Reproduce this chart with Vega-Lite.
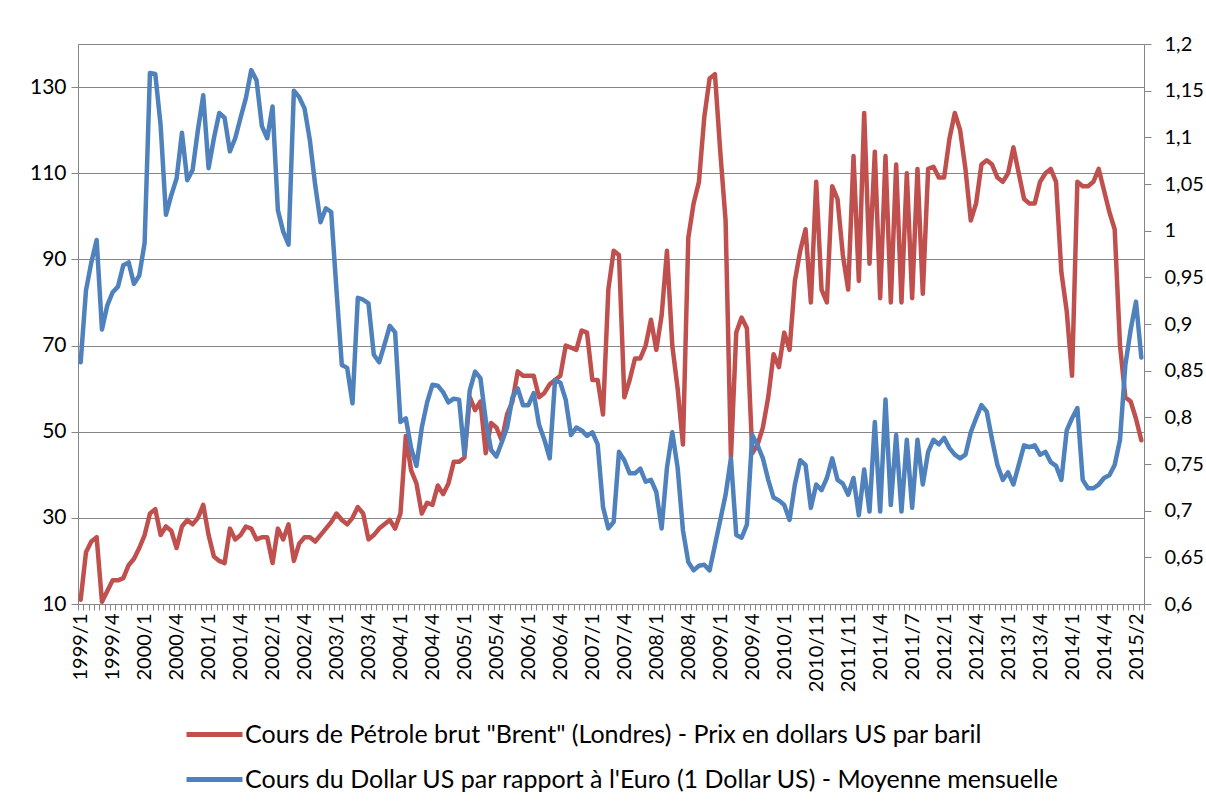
{
"$schema":"https://vega.github.io/schema/vega-lite/v6.json",
"width":1066,"height":560,
"autosize":"none",
"padding":{"left":78,"top":44,"right":62,"bottom":205},
"background":"white",
"config":{"view":{"stroke":"#868686","strokeWidth":1},"font":"Lato",
"axis":{"domainColor":"#868686","tickColor":"#868686","gridColor":"#868686","labelColor":"#000000","labelFont":"Lato","labelFontSize":21,"titleFontSize":0}},
"data":{"values":[
{"i":0,"brent":11,"usd":0.859},{"i":1,"brent":22,"usd":0.936},{"i":2,"brent":24.5,"usd":0.966},{"i":3,"brent":25.5,"usd":0.99},{"i":4,"brent":10.5,"usd":0.894},{"i":5,"brent":13,"usd":0.92},{"i":6,"brent":15.5,"usd":0.934},{"i":7,"brent":15.5,"usd":0.94},{"i":8,"brent":16,"usd":0.963},{"i":9,"brent":19,"usd":0.966},
{"i":10,"brent":20.5,"usd":0.943},{"i":11,"brent":23,"usd":0.952},{"i":12,"brent":26,"usd":0.987},{"i":13,"brent":31,"usd":1.169},{"i":14,"brent":32,"usd":1.168},{"i":15,"brent":26,"usd":1.113},{"i":16,"brent":28,"usd":1.017},{"i":17,"brent":27,"usd":1.038},{"i":18,"brent":23,"usd":1.056},{"i":19,"brent":28,"usd":1.105},
{"i":20,"brent":29.5,"usd":1.054},{"i":21,"brent":28.5,"usd":1.065},{"i":22,"brent":30,"usd":1.108},{"i":23,"brent":33,"usd":1.145},{"i":24,"brent":26,"usd":1.067},{"i":25,"brent":21,"usd":1.099},{"i":26,"brent":20,"usd":1.126},{"i":27,"brent":19.5,"usd":1.121},{"i":28,"brent":27.5,"usd":1.085},{"i":29,"brent":25,"usd":1.099},
{"i":30,"brent":26,"usd":1.121},{"i":31,"brent":28,"usd":1.142},{"i":32,"brent":27.5,"usd":1.172},{"i":33,"brent":25,"usd":1.161},{"i":34,"brent":25.5,"usd":1.112},{"i":35,"brent":25.5,"usd":1.099},{"i":36,"brent":19.5,"usd":1.133},{"i":37,"brent":27.5,"usd":1.022},{"i":38,"brent":25,"usd":0.999},{"i":39,"brent":28.5,"usd":0.985},
{"i":40,"brent":20,"usd":1.15},{"i":41,"brent":24,"usd":1.143},{"i":42,"brent":25.5,"usd":1.131},{"i":43,"brent":25.5,"usd":1.097},{"i":44,"brent":24.5,"usd":1.049},{"i":45,"brent":26,"usd":1.009},{"i":46,"brent":27.5,"usd":1.024},{"i":47,"brent":29,"usd":1.02},{"i":48,"brent":31,"usd":0.936},{"i":49,"brent":29.5,"usd":0.856},
{"i":50,"brent":28.5,"usd":0.853},{"i":51,"brent":30,"usd":0.815},{"i":52,"brent":32.5,"usd":0.928},{"i":53,"brent":31,"usd":0.926},{"i":54,"brent":25,"usd":0.922},{"i":55,"brent":26,"usd":0.867},{"i":56,"brent":27.5,"usd":0.859},{"i":57,"brent":28.5,"usd":0.878},{"i":58,"brent":29.5,"usd":0.898},{"i":59,"brent":27.5,"usd":0.891},
{"i":60,"brent":31,"usd":0.795},{"i":61,"brent":49,"usd":0.799},{"i":62,"brent":41,"usd":0.767},{"i":63,"brent":38,"usd":0.748},{"i":64,"brent":31,"usd":0.789},{"i":65,"brent":33.5,"usd":0.816},{"i":66,"brent":33,"usd":0.835},{"i":67,"brent":37.5,"usd":0.834},{"i":68,"brent":35.5,"usd":0.827},{"i":69,"brent":38,"usd":0.816},
{"i":70,"brent":43,"usd":0.82},{"i":71,"brent":43,"usd":0.819},{"i":72,"brent":44,"usd":0.76},{"i":73,"brent":58,"usd":0.829},{"i":74,"brent":55,"usd":0.849},{"i":75,"brent":57,"usd":0.842},{"i":76,"brent":45,"usd":0.797},{"i":77,"brent":52,"usd":0.765},{"i":78,"brent":51,"usd":0.758},{"i":79,"brent":48,"usd":0.773},
{"i":80,"brent":54,"usd":0.789},{"i":81,"brent":57,"usd":0.821},{"i":82,"brent":64,"usd":0.831},{"i":83,"brent":63,"usd":0.813},{"i":84,"brent":63,"usd":0.813},{"i":85,"brent":63,"usd":0.826},{"i":86,"brent":58,"usd":0.792},{"i":87,"brent":59,"usd":0.776},{"i":88,"brent":61,"usd":0.756},{"i":89,"brent":62,"usd":0.84},
{"i":90,"brent":63,"usd":0.837},{"i":91,"brent":70,"usd":0.819},{"i":92,"brent":69.5,"usd":0.781},{"i":93,"brent":69,"usd":0.789},{"i":94,"brent":73.5,"usd":0.786},{"i":95,"brent":73,"usd":0.78},{"i":96,"brent":62,"usd":0.784},{"i":97,"brent":62,"usd":0.771},{"i":98,"brent":54,"usd":0.704},{"i":99,"brent":83,"usd":0.681},
{"i":100,"brent":92,"usd":0.688},{"i":101,"brent":91,"usd":0.763},{"i":102,"brent":58,"usd":0.754},{"i":103,"brent":62,"usd":0.74},{"i":104,"brent":67,"usd":0.74},{"i":105,"brent":67,"usd":0.745},{"i":106,"brent":70,"usd":0.731},{"i":107,"brent":76,"usd":0.733},{"i":108,"brent":69,"usd":0.72},{"i":109,"brent":77,"usd":0.681},
{"i":110,"brent":92,"usd":0.746},{"i":111,"brent":70,"usd":0.784},{"i":112,"brent":60,"usd":0.746},{"i":113,"brent":47,"usd":0.679},{"i":114,"brent":95,"usd":0.645},{"i":115,"brent":103,"usd":0.636},{"i":116,"brent":108,"usd":0.641},{"i":117,"brent":123,"usd":0.642},{"i":118,"brent":132,"usd":0.636},{"i":119,"brent":133,"usd":0.663},
{"i":120,"brent":115,"usd":0.69},{"i":121,"brent":99,"usd":0.717},{"i":122,"brent":44,"usd":0.756},{"i":123,"brent":73,"usd":0.674},{"i":124,"brent":76.5,"usd":0.671},{"i":125,"brent":74,"usd":0.685},{"i":126,"brent":45,"usd":0.781},{"i":127,"brent":47,"usd":0.77},{"i":128,"brent":51,"usd":0.756},{"i":129,"brent":58,"usd":0.733},
{"i":130,"brent":68,"usd":0.714},{"i":131,"brent":65,"usd":0.711},{"i":132,"brent":73,"usd":0.706},{"i":133,"brent":69,"usd":0.69},{"i":134,"brent":85,"usd":0.728},{"i":135,"brent":92,"usd":0.754},{"i":136,"brent":97,"usd":0.749},{"i":137,"brent":80,"usd":0.703},{"i":138,"brent":108,"usd":0.728},{"i":139,"brent":83,"usd":0.722},
{"i":140,"brent":80,"usd":0.735},{"i":141,"brent":107,"usd":0.756},{"i":142,"brent":104,"usd":0.733},{"i":143,"brent":91,"usd":0.729},{"i":144,"brent":83,"usd":0.717},{"i":145,"brent":114,"usd":0.735},{"i":146,"brent":85,"usd":0.695},{"i":147,"brent":124,"usd":0.744},{"i":148,"brent":89,"usd":0.699},{"i":149,"brent":115,"usd":0.795},
{"i":150,"brent":81,"usd":0.699},{"i":151,"brent":114,"usd":0.819},{"i":152,"brent":80,"usd":0.706},{"i":153,"brent":112,"usd":0.781},{"i":154,"brent":80,"usd":0.699},{"i":155,"brent":110,"usd":0.776},{"i":156,"brent":81,"usd":0.703},{"i":157,"brent":111,"usd":0.776},{"i":158,"brent":82,"usd":0.728},{"i":159,"brent":111,"usd":0.763},
{"i":160,"brent":111.5,"usd":0.776},{"i":161,"brent":109,"usd":0.771},{"i":162,"brent":109,"usd":0.778},{"i":163,"brent":118,"usd":0.767},{"i":164,"brent":124,"usd":0.76},{"i":165,"brent":120,"usd":0.756},{"i":166,"brent":111,"usd":0.76},{"i":167,"brent":99,"usd":0.784},{"i":168,"brent":103,"usd":0.799},{"i":169,"brent":112,"usd":0.813},
{"i":170,"brent":113,"usd":0.806},{"i":171,"brent":112,"usd":0.776},{"i":172,"brent":109,"usd":0.749},{"i":173,"brent":108,"usd":0.733},{"i":174,"brent":110,"usd":0.741},{"i":175,"brent":116,"usd":0.728},{"i":176,"brent":110,"usd":0.749},{"i":177,"brent":104,"usd":0.77},{"i":178,"brent":103,"usd":0.768},{"i":179,"brent":103,"usd":0.77},
{"i":180,"brent":108,"usd":0.76},{"i":181,"brent":110,"usd":0.763},{"i":182,"brent":111,"usd":0.752},{"i":183,"brent":108,"usd":0.748},{"i":184,"brent":87,"usd":0.733},{"i":185,"brent":78,"usd":0.786},{"i":186,"brent":63,"usd":0.799},{"i":187,"brent":108,"usd":0.81},{"i":188,"brent":107,"usd":0.733},{"i":189,"brent":107,"usd":0.724},
{"i":190,"brent":108,"usd":0.724},{"i":191,"brent":111,"usd":0.728},{"i":192,"brent":106,"usd":0.735},{"i":193,"brent":101,"usd":0.738},{"i":194,"brent":97,"usd":0.749},{"i":195,"brent":70,"usd":0.776},{"i":196,"brent":58,"usd":0.856},{"i":197,"brent":57,"usd":0.894},{"i":198,"brent":53,"usd":0.924},{"i":199,"brent":48,"usd":0.864}
]},
"layer":[
{"mark":{"type":"line","strokeWidth":4.5,"strokeJoin":"round","strokeCap":"round","clip":false},
"encoding":{
"x":{"field":"i","type":"quantitative","scale":{"domain":[-0.5,199.5],"nice":false,"zero":false},
"axis":{"orient":"bottom","title":null,"values":[0,6,12,18,24,30,36,42,48,54,60,66,72,78,84,90,96,102,108,114,120,126,132,138,144,150,156,162,168,174,180,186,192,198],"ticks":false,"domain":false,"grid":false,"labelAngle":-90,"labelPadding":9,"labelFontSize":20,"labelExpr":"['1999/1','1999/4','2000/1','2000/4','2001/1','2001/4','2002/1','2002/4','2003/1','2003/4','2004/1','2004/4','2005/1','2005/4','2006/1','2006/4','2007/1','2007/4','2008/1','2008/4','2009/1','2009/4','2010/1','2010/11','2011/11','2011/4','2011/7','2012/1','2012/4','2013/1','2013/4','2014/1','2014/4','2015/2'][round(datum.value/6)]"}},
"y":{"field":"brent","type":"quantitative","scale":{"domain":[10,140],"nice":false,"zero":false},
"axis":{"orient":"left","title":null,"values":[10,30,50,70,90,110,130],"grid":true,"tickSize":7,"labelPadding":5}},
"color":{"datum":"Cours de Pétrole brut \"Brent\" (Londres) - Prix en dollars US par baril","scale":{"range":["#C0504D"]},
"legend":{"orient":"none","legendX":106,"legendY":660,"title":null,"symbolType":"stroke","symbolSize":3136,"symbolStrokeWidth":5,"labelFontSize":25,"labelLimit":0,"labelOffset":0,"labelFont":"Lato"}}}},
{"mark":{"type":"line","strokeWidth":4.5,"strokeJoin":"round","strokeCap":"round","clip":false},
"encoding":{
"x":{"field":"i","type":"quantitative","scale":{"domain":[-0.5,199.5],"nice":false,"zero":false},
"axis":{"orient":"bottom","title":null,"labels":false,"grid":false,"tickSize":6,"values":[-0.5,0.5,1.5,2.5,3.5,4.5,5.5,6.5,7.5,8.5,9.5,10.5,11.5,12.5,13.5,14.5,15.5,16.5,17.5,18.5,19.5,20.5,21.5,22.5,23.5,24.5,25.5,26.5,27.5,28.5,29.5,30.5,31.5,32.5,33.5,34.5,35.5,36.5,37.5,38.5,39.5,40.5,41.5,42.5,43.5,44.5,45.5,46.5,47.5,48.5,49.5,50.5,51.5,52.5,53.5,54.5,55.5,56.5,57.5,58.5,59.5,60.5,61.5,62.5,63.5,64.5,65.5,66.5,67.5,68.5,69.5,70.5,71.5,72.5,73.5,74.5,75.5,76.5,77.5,78.5,79.5,80.5,81.5,82.5,83.5,84.5,85.5,86.5,87.5,88.5,89.5,90.5,91.5,92.5,93.5,94.5,95.5,96.5,97.5,98.5,99.5,100.5,101.5,102.5,103.5,104.5,105.5,106.5,107.5,108.5,109.5,110.5,111.5,112.5,113.5,114.5,115.5,116.5,117.5,118.5,119.5,120.5,121.5,122.5,123.5,124.5,125.5,126.5,127.5,128.5,129.5,130.5,131.5,132.5,133.5,134.5,135.5,136.5,137.5,138.5,139.5,140.5,141.5,142.5,143.5,144.5,145.5,146.5,147.5,148.5,149.5,150.5,151.5,152.5,153.5,154.5,155.5,156.5,157.5,158.5,159.5,160.5,161.5,162.5,163.5,164.5,165.5,166.5,167.5,168.5,169.5,170.5,171.5,172.5,173.5,174.5,175.5,176.5,177.5,178.5,179.5,180.5,181.5,182.5,183.5,184.5,185.5,186.5,187.5,188.5,189.5,190.5,191.5,192.5,193.5,194.5,195.5,196.5,197.5,198.5,199.5]}},
"y":{"field":"usd","type":"quantitative","scale":{"domain":[0.6,1.2],"nice":false,"zero":false},
"axis":{"orient":"right","title":null,"values":[0.6,0.65,0.7,0.75,0.8,0.85,0.9,0.95,1,1.05,1.1,1.15,1.2],"grid":false,"tickSize":7,"labelPadding":13,"labelFontSize":20,"labelExpr":"replace(format(datum.value,'.2~f'),'.',',')"}},
"color":{"datum":"Cours du Dollar US par rapport à l'Euro (1 Dollar US) - Moyenne mensuelle","scale":{"range":["#4F81BD"]},
"legend":{"orient":"none","legendX":106,"legendY":705,"title":null,"symbolType":"stroke","symbolSize":3136,"symbolStrokeWidth":5,"labelFontSize":25,"labelLimit":0,"labelOffset":0,"labelFont":"Lato"}}}}
],
"resolve":{"scale":{"y":"independent","color":"independent"},"axis":{"x":"independent"},"legend":{"color":"independent"}}
}
